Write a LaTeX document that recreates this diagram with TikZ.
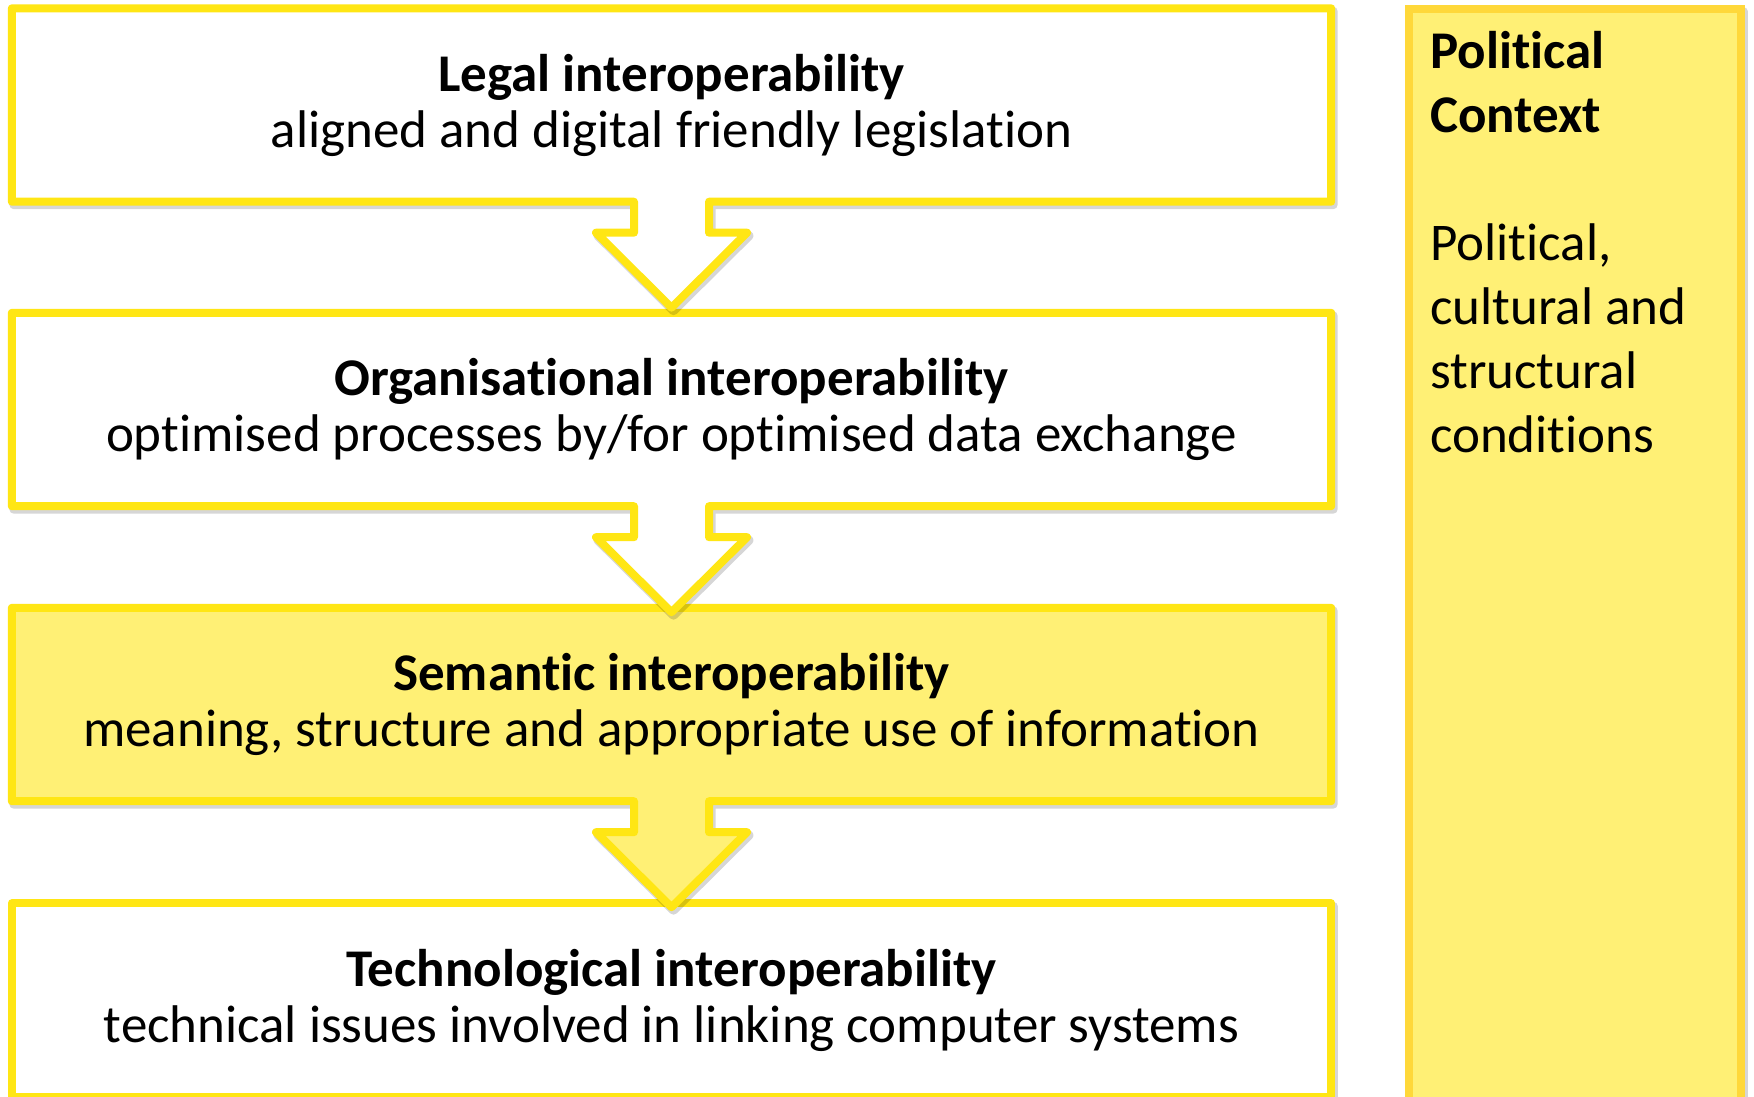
\documentclass[tikz,border=0pt]{standalone}
\usepackage{fontspec}
\setmainfont{Carlito}[Ligatures={NoCommon,NoContextual,NoRequired}]
\usetikzlibrary{calc}
\pgfdeclarelayer{background}
\pgfsetlayers{background,main}
\definecolor{boxline}{RGB}{255,230,20}
\definecolor{semfill}{RGB}{255,240,117}
\definecolor{polline}{RGB}{255,216,58}
\definecolor{polfill}{RGB}{255,240,117}
\newcommand{\drawboxarrow}[2]{%
  \draw[shadowline] ($(#1.south)+(-37.5,0)$) -- (#1.south west) -- (#1.north west) -- (#1.north east) -- (#1.south east) -- ($(#1.south)+(37.5,0)$) -- ($(#1.south)+(37.5,31)$) -- ($(#1.south)+(75.5,31)$) -- ($(#1.south)+(0,106)$) -- ($(#1.south)+(-75.5,31)$) -- ($(#1.south)+(-37.5,31)$) -- cycle;
  \filldraw[outline, fill=#2] ($(#1.south)+(-37.5,0)$) -- (#1.south west) -- (#1.north west) -- (#1.north east) -- (#1.south east) -- ($(#1.south)+(37.5,0)$) -- ($(#1.south)+(37.5,31)$) -- ($(#1.south)+(75.5,31)$) -- ($(#1.south)+(0,106)$) -- ($(#1.south)+(-75.5,31)$) -- ($(#1.south)+(-37.5,31)$) -- cycle;
}
\begin{document}
\begin{tikzpicture}[x=1pt,y=-1pt,
  layerbox/.style={minimum width=1319pt, minimum height=193pt, inner sep=0pt, align=center, font=\fontsize{53}{56}\selectfont},
  outline/.style={draw=boxline, line width=8pt, line join=round},
  shadowline/.style={draw=black, opacity=0.16, line width=9pt, line join=round, transform canvas={xshift=2pt, yshift=-3pt}},
  poltext/.style={anchor=base west, align=left, inner sep=0pt, font=\fontsize{53}{64}\selectfont},
]
\useasboundingbox (0,0) rectangle (1754,1097);

\node[layerbox] (b1) at (671.5,105) {\textbf{Legal interoperability}\\aligned and digital friendly legislation};
\node[layerbox] (b2) at (671.5,409.5) {\textbf{Organisational interoperability}\\optimised processes by/for optimised data exchange};
\node[layerbox] (b3) at (671.5,704.5) {\textbf{Semantic interoperability}\\meaning, structure and appropriate use of information};
\node[layerbox] (b4) at (671.5,1000) {\textbf{Technological interoperability}\\technical issues involved in linking computer systems};

\node[minimum width=332pt, minimum height=1100pt, inner sep=0pt] (pol) at (1575,559) {};
\node[poltext] (pt) at (1430,452) {\textbf{Political}\\\textbf{Context}\\[64pt]Political,\\cultural and\\structural\\conditions};

\begin{pgfonlayer}{background}
  \fill[white] (0,0) rectangle (1754,1097);
  \draw[shadowline] (pol.south west) rectangle (pol.north east);
  \filldraw[draw=polline, fill=polfill, line width=8pt] (pol.south west) rectangle (pol.north east);
  \draw[shadowline] (b4.south west) rectangle (b4.north east);
  \filldraw[outline, fill=white] (b4.south west) rectangle (b4.north east);
  \drawboxarrow{b3}{semfill}
  \drawboxarrow{b2}{white}
  \drawboxarrow{b1}{white}
\end{pgfonlayer}
\end{tikzpicture}
\end{document}
